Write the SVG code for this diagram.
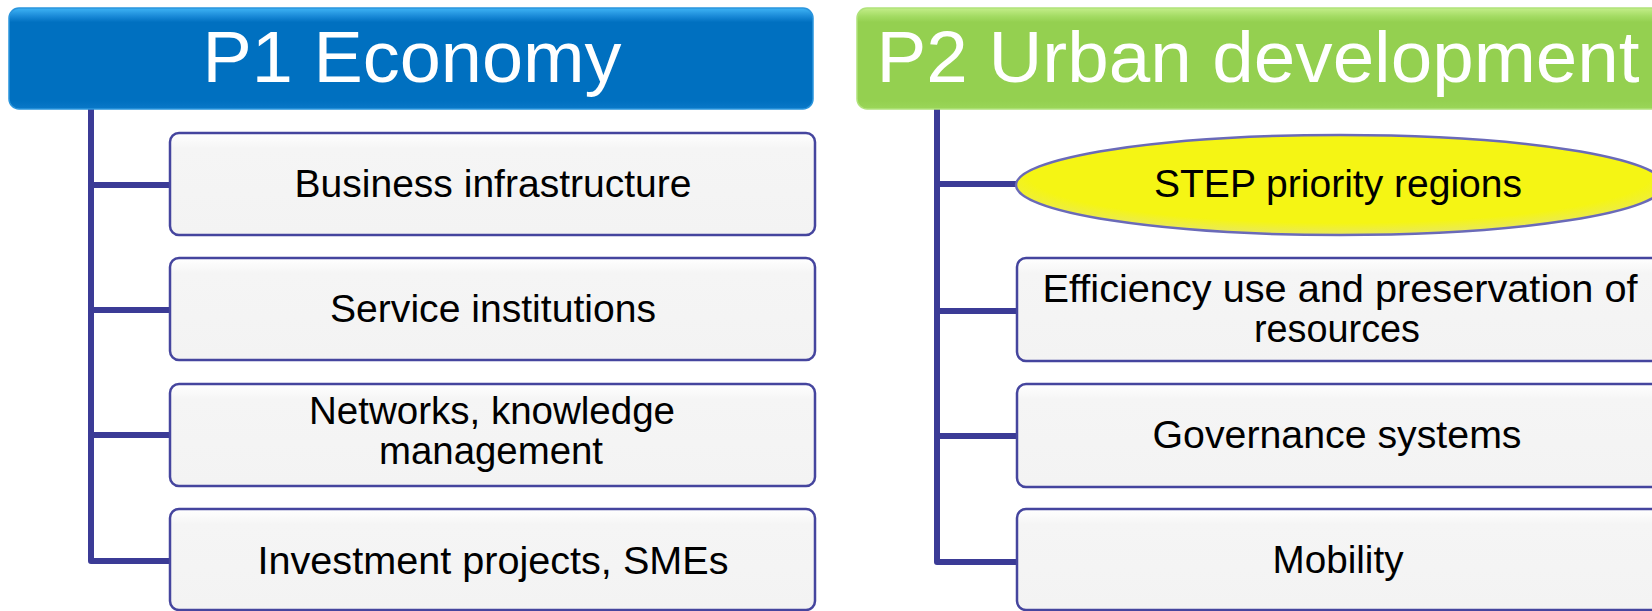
<svg xmlns="http://www.w3.org/2000/svg" width="1652" height="611" viewBox="0 0 1652 611">
<style>
.conn{fill:none;stroke:#3b3b96;stroke-width:6;stroke-linejoin:round;stroke-linecap:butt}
.box{fill:url(#boxg);stroke:#45459e;stroke-width:2.5}
.hdr{font-family:"Liberation Sans",Arial,sans-serif;font-size:72px;fill:#ffffff;text-anchor:middle}
.lbl{font-family:"Liberation Sans",Arial,sans-serif;font-size:38px;fill:#000000;text-anchor:middle}
</style>
<defs>
<linearGradient id="boxg" x1="0" y1="0" x2="0" y2="1">
<stop offset="0" stop-color="#ffffff"/>
<stop offset="0.15" stop-color="#f5f5f5"/>
<stop offset="1" stop-color="#f3f3f3"/>
</linearGradient>
<linearGradient id="blueg" x1="0" y1="0" x2="0" y2="1">
<stop offset="0" stop-color="#3fb4f5"/>
<stop offset="0.08" stop-color="#1a8ad8"/>
<stop offset="0.14" stop-color="#0070c0"/>
<stop offset="0.92" stop-color="#0070c0"/>
<stop offset="1" stop-color="#0a78c8"/>
</linearGradient>
<linearGradient id="greeng" x1="0" y1="0" x2="0" y2="1">
<stop offset="0" stop-color="#c4ee8a"/>
<stop offset="0.08" stop-color="#a4dc64"/>
<stop offset="0.14" stop-color="#94d050"/>
<stop offset="0.92" stop-color="#94d050"/>
<stop offset="1" stop-color="#9ad658"/>
</linearGradient>
<radialGradient id="yelg" cx="0.5" cy="0.4" r="0.6">
<stop offset="0" stop-color="#f5f514"/>
<stop offset="0.8" stop-color="#f5f514"/>
<stop offset="1" stop-color="#e8e860"/>
</radialGradient>
</defs>

<g id="connectors">
<path class="conn" d="M91,109 V561 H170"/>
<path class="conn" d="M91,185 H170"/>
<path class="conn" d="M91,310 H170"/>
<path class="conn" d="M91,435 H170"/>
<path class="conn" d="M937,109 V562 H1017"/>
<path class="conn" d="M937,184 H1016"/>
<path class="conn" d="M937,311 H1017"/>
<path class="conn" d="M937,436 H1017"/>
</g>

<g id="p1-header">
<rect x="9" y="8" width="804" height="101" rx="10" fill="url(#blueg)" stroke="#2a95dd" stroke-width="1.5"/>
<text class="hdr" x="412" y="82" textLength="419" lengthAdjust="spacingAndGlyphs">P1 Economy</text>
</g>

<g id="p2-header">
<rect x="857" y="8" width="805" height="101" rx="10" fill="url(#greeng)" stroke="#b0e27a" stroke-width="1.5"/>
<text class="hdr" x="1258" y="82" textLength="763" lengthAdjust="spacingAndGlyphs">P2 Urban development</text>
</g>

<g id="p1-business">
<rect class="box" x="170" y="133" width="645" height="102" rx="9"/>
<text class="lbl" x="493" y="197" textLength="397" lengthAdjust="spacingAndGlyphs">Business infrastructure</text>
</g>

<g id="p1-service">
<rect class="box" x="170" y="258" width="645" height="102" rx="9"/>
<text class="lbl" x="493" y="322" textLength="326" lengthAdjust="spacingAndGlyphs">Service institutions</text>
</g>

<g id="p1-networks">
<rect class="box" x="170" y="384" width="645" height="102" rx="9"/>
<text class="lbl" x="492" y="424" textLength="366" lengthAdjust="spacingAndGlyphs">Networks, knowledge</text>
<text class="lbl" x="491" y="464" textLength="224" lengthAdjust="spacingAndGlyphs">management</text>
</g>

<g id="p1-investment">
<rect class="box" x="170" y="509" width="645" height="101" rx="9"/>
<text class="lbl" x="493" y="574" textLength="471" lengthAdjust="spacingAndGlyphs">Investment projects, SMEs</text>
</g>

<g id="p2-step">
<ellipse cx="1340" cy="185" rx="324" ry="50" fill="url(#yelg)" stroke="#6a6ab8" stroke-width="2.5"/>
<text class="lbl" x="1338" y="197" textLength="368" lengthAdjust="spacingAndGlyphs">STEP priority regions</text>
</g>

<g id="p2-efficiency">
<rect class="box" x="1017" y="258" width="645" height="103" rx="9" stroke="#7070bc"/>
<text class="lbl" x="1340" y="302" textLength="595" lengthAdjust="spacingAndGlyphs">Efficiency use and preservation of</text>
<text class="lbl" x="1337" y="342" textLength="166" lengthAdjust="spacingAndGlyphs">resources</text>
</g>

<g id="p2-governance">
<rect class="box" x="1017" y="384" width="645" height="103" rx="9" stroke="#7a7ac0"/>
<text class="lbl" x="1337" y="448" textLength="369" lengthAdjust="spacingAndGlyphs">Governance systems</text>
</g>

<g id="p2-mobility">
<rect class="box" x="1017" y="509" width="645" height="101" rx="9" stroke="#8a8ac8"/>
<text class="lbl" x="1338" y="573" textLength="131" lengthAdjust="spacingAndGlyphs">Mobility</text>
</g>
</svg>
